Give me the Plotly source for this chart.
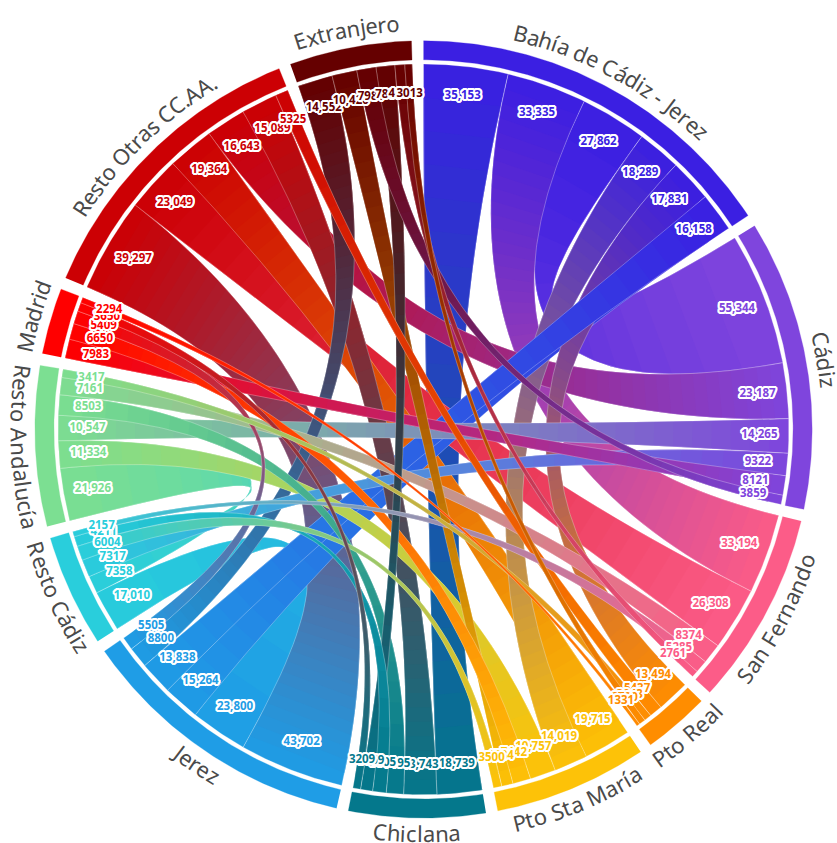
import numpy as np
import plotly.graph_objects as go

GROUPS = ["Bahía de Cádiz - Jerez", "Cádiz", "San Fernando", "Pto Real", "Pto Sta María", "Chiclana",
          "Jerez", "Resto Cádiz", "Resto Andalucía", "Madrid", "Resto Otras CC.AA.", "Extranjero"]
COLORS = ["#3b1fe2", "#7f45dd", "#fc5c88", "#ff8d00", "#fdc208", "#04788c",
          "#1f9de6", "#29cedc", "#7cdf92", "#ff0000", "#cc0004", "#650000"]

bahia = [35153, 33335, 27862, 18289, 17831, 16158]
cadiz = [55344, 23187, 14265, 9322, 8121, 3859]
san_fernando = [33194, 26308, 8374, 5285, 2761]
pto_real = [13494, 5437, 3043, 2700, 1331]
pto_sta_maria = [19715, 14019, 10757, 7442, 4784, 3500]
chiclana = [18739, 13743, 7195, 5605, 5059, 3209]
jerez = [43702, 23800, 15264, 13838, 8800, 5505]
resto_cadiz = [17010, 7358, 7317, 6004, 4211, 2157]
resto_andalucia = [21926, 11334, 10547, 8503, 7161, 3417]
madrid = [7983, 6650, 5409, 3650, 2294]
resto_otras = [39297, 23049, 19364, 16643, 15089, 5325]
extranjero = [14552, 10420, 7981, 7860, 4104, 3013]
VALUES = [bahia, cadiz, san_fernando, pto_real, pto_sta_maria, chiclana, jerez,
          resto_cadiz, resto_andalucia, madrid, resto_otras, extranjero]

# (group, end index, group, end index)
LINKS = [
    (0, 0, 5, 0), (0, 1, 2, 0), (0, 2, 1, 0), (0, 3, 4, 1), (0, 4, 3, 0), (0, 5, 6, 3), (0, 5, 6, 2),
    (1, 1, 10, 3), (1, 2, 8, 2), (1, 3, 7, 2), (1, 4, 9, 0), (1, 5, 11, 2),
    (2, 1, 10, 1), (2, 2, 8, 4), (2, 3, 7, 5), (2, 4, 11, 4),
    (3, 1, 10, 5), (3, 2, 8, 5), (3, 3, 11, 5), (3, 4, 9, 4),
    (4, 0, 10, 2), (4, 2, 8, 1), (4, 3, 9, 1), (4, 4, 11, 1), (4, 5, 7, 3),
    (5, 1, 10, 4), (5, 2, 8, 3), (5, 3, 7, 4), (5, 4, 11, 3), (5, 5, 9, 3),
    (6, 0, 10, 0), (6, 1, 7, 0), (6, 4, 11, 0), (6, 5, 9, 2),
    (7, 1, 8, 0),
]

CX, CY = 423.5, 429.4
R_OUT, R_BAND, R_RIB, R_VAL, R_TXT = 388.6, 369.6, 365.4, 336, 404
GAP = 1.78
STEP = 4

total = sum(sum(v) for v in VALUES)
k = (360 - GAP * len(GROUPS)) / total

starts, ends_ang = [], []
a = 0.0
for vals in VALUES:
    st = [a]
    for v in vals:
        st.append(st[-1] + v * k)
    starts.append(st)
    ends_ang.append(st[-1])
    a = st[-1] + GAP


def pol(r, deg):
    t = np.radians(deg)
    return CX + r * np.sin(t), CY - r * np.cos(t)


def arc(r, a0, a1, step=0.5):
    n = max(2, int(abs(a1 - a0) / step) + 2)
    return pol(r, np.linspace(a0, a1, n))


def rgb(h):
    return np.array([int(h[i:i + 2], 16) for i in (1, 3, 5)], float)


def quad(p0, p2, n):
    t = np.linspace(0, 1, n)[:, None]
    c = np.array([CX, CY])
    return (1 - t) ** 2 * p0 + 2 * t * (1 - t) * c + t ** 2 * p2


fig = go.Figure()

links = sorted(LINKS, key=lambda L: -(VALUES[L[0]][L[1]] + VALUES[L[2]][L[3]]))
for g0, i0, g1, i1 in links:
    sa0, sa1 = starts[g0][i0], starts[g0][i0 + 1]
    ta0, ta1 = starts[g1][i1], starts[g1][i1 + 1]
    c0, c1 = rgb(COLORS[g0]), rgb(COLORS[g1])
    seg = int(np.clip(np.abs(c1 - c0).max() / 4, 12, 60))
    npts = STEP * seg + 1
    e1 = quad(np.array(pol(R_RIB, sa1)), np.array(pol(R_RIB, ta0)), npts)
    e2 = quad(np.array(pol(R_RIB, sa0)), np.array(pol(R_RIB, ta1)), npts)
    for s in range(seg):
        # each strip runs on under the next one, so no seam can show between them
        i, j = s * STEP, min((s + 2) * STEP + 1, npts)
        xs = list(e1[i:j, 0]) + list(e2[i:j, 0][::-1])
        ys = list(e1[i:j, 1]) + list(e2[i:j, 1][::-1])
        if s == 0:
            ax, ay = arc(R_RIB, sa0, sa1)
            xs = list(ax) + xs
            ys = list(ay) + ys
        if s == seg - 1:
            ax, ay = arc(R_RIB, ta0, ta1)
            xs = xs[:j - i] + list(ax) + xs[j - i:]
            ys = ys[:j - i] + list(ay) + ys[j - i:]
        col = c0 + (c1 - c0) * (s + 0.5) / seg
        css = "rgb(%d,%d,%d)" % tuple(col)
        fig.add_trace(go.Scatter(x=xs, y=ys, mode="lines", fill="toself", fillcolor=css,
                                 line=dict(color=css, width=0), hoverinfo="skip", showlegend=False))
    ax0, ay0 = arc(R_RIB, sa0, sa1)
    ax1, ay1 = arc(R_RIB, ta0, ta1)
    ox = list(ax0) + list(e1[:, 0]) + list(ax1) + list(e2[:, 0][::-1])
    oy = list(ay0) + list(e1[:, 1]) + list(ay1) + list(e2[:, 1][::-1])
    fig.add_trace(go.Scatter(x=ox, y=oy, mode="lines", line=dict(color="rgba(255,255,255,0.4)", width=0.7),
                             hoverinfo="skip", showlegend=False))

for g, name in enumerate(GROUPS):
    a0, a1 = starts[g][0], ends_ang[g]
    ox, oy = arc(R_OUT, a0, a1)
    ix, iy = arc(R_BAND, a1, a0)
    fig.add_trace(go.Scatter(x=list(ox) + list(ix), y=list(oy) + list(iy), mode="lines", fill="toself",
                             fillcolor=COLORS[g], line=dict(color=COLORS[g], width=0.3), name=name,
                             hoverinfo="name", showlegend=False))

halo = ",".join("%dpx %dpx 0 #fff" % (x, y) for x in (-2, -1, 0, 1, 2) for y in (-2, -1, 0, 1, 2) if abs(x) + abs(y) < 4)
for g, vals in enumerate(VALUES):
    mids = [(starts[g][i] + starts[g][i + 1]) / 2 for i in range(len(vals))]
    lx, ly = pol(R_VAL, np.array(mids))
    fig.add_trace(go.Scatter(x=lx, y=ly, mode="text",
                             text=[f"{v:,}" if v >= 10000 else str(v) for v in vals],
                             textposition="middle center",
                             textfont=dict(family="Noto Sans", size=11.5, color=COLORS[g], weight=700, shadow=halo),
                             hoverinfo="skip", showlegend=False))

WID = dict(zip("abcdefghijklmnopqrstuvwxyzíá -.BCSFMRPEJAO",
               [561, 615, 480, 615, 564, 344, 615, 618, 258, 258, 534, 258, 935, 618, 605, 615, 615, 413, 479, 361,
                618, 508, 786, 529, 510, 470, 258, 561, 260, 322, 268, 650, 632, 549, 519, 907, 622, 605, 556, 273, 639, 781]))
FS = 22
for g, name in enumerate(GROUPS):
    mid = (starts[g][0] + ends_ang[g]) / 2
    flip = 90 < mid < 270
    rt = R_TXT if flip else R_TXT + 4
    w = [WID[c] * FS / 1000 for c in name]
    tot = sum(w)
    pos = -tot / 2
    for c, cw in zip(name, w):
        off = pos + cw / 2
        pos += cw
        if c == " ":
            continue
        ang = mid + np.degrees(off / rt) * (-1 if flip else 1)
        x, y = pol(rt, ang)
        fig.add_annotation(x=x, y=y, text=c, showarrow=False, xanchor="center", yanchor="middle",
                           textangle=(ang - 180 if flip else ang), xref="x", yref="y",
                           font=dict(family="Noto Sans", size=FS, color="#4a4a4a"))

fig.update_layout(width=837, height=843, margin=dict(l=0, r=0, t=0, b=0), autosize=False,
                  paper_bgcolor="#fff", plot_bgcolor="#fff", showlegend=False,
                  xaxis=dict(range=[0, 837], visible=False, fixedrange=True),
                  yaxis=dict(range=[843, 0], visible=False, fixedrange=True))
fig.write_html("out.html", config={"displayModeBar": False},
               post_script="document.body.style.margin='0';")
